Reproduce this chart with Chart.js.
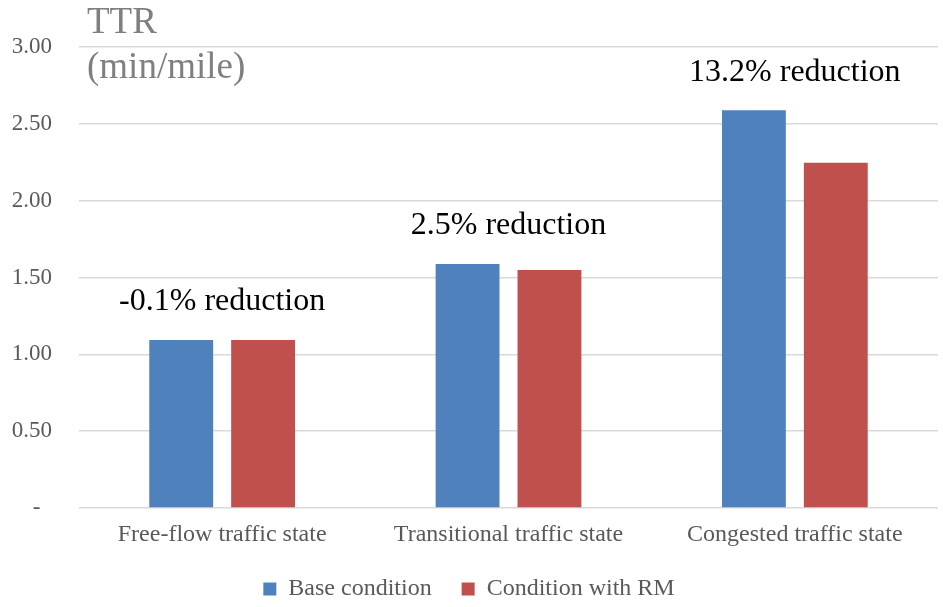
<!DOCTYPE html>
<html>
<head>
<meta charset="utf-8">
<script src="https://cdn.jsdelivr.net/npm/chart.js@4.4.0/dist/chart.umd.min.js"></script>
<style>
  html, body { margin: 0; padding: 0; background: #fff; }
  #wrap { width: 943px; height: 607px; }
</style>
</head>
<body>
<div id="wrap"><canvas id="chart_bar"></canvas></div>
<script>
var categories = ['Free-flow traffic state', 'Transitional traffic state', 'Congested traffic state']
var baseValues = [1.093, 1.588, 2.588]
var rmValues = [1.094, 1.548, 2.246]
var reductionLabels = ['-0.1% reduction', '2.5% reduction', '13.2% reduction']
var yTicks = [0, 0.5, 1, 1.5, 2, 2.5, 3]

var serif = "'Liberation Serif', 'Times New Roman', serif"

// axis title and the reduction notes above each group
var notesPlugin = {
  id: 'notes',
  afterDatasetsDraw: function (chart) {
    var ctx = chart.ctx
    var x = chart.scales.x
    var y = chart.scales.y
    ctx.save()
    ctx.fillStyle = '#000'
    ctx.font = '32px ' + serif
    ctx.textAlign = 'center'
    ctx.textBaseline = 'middle'
    reductionLabels.forEach(function (t, i) {
      var top = y.getPixelForValue(Math.max(baseValues[i], rmValues[i]))
      ctx.fillText(t, x.getPixelForValue(i), top - 38)
    })
    ctx.fillStyle = '#7f7f7f'
    ctx.font = '37px ' + serif
    ctx.textAlign = 'left'
    ctx.textBaseline = 'alphabetic'
    ctx.fillText('TTR', chart.chartArea.left + 8, 33)
    ctx.fillText('(min/mile)', chart.chartArea.left + 8, 78)
    ctx.restore()
  }
}

var ctx = document.getElementById('chart_bar')
var myChart = new Chart(ctx, {
  type: 'bar',
  data: {
    labels: categories,
    datasets: [{
      label: 'Base condition',
      data: baseValues,
      backgroundColor: '#4F81BD'
    }, {
      label: 'Condition with RM',
      data: rmValues,
      backgroundColor: '#C0504D'
    }]
  },
  options: {
    responsive: true,
    maintainAspectRatio: false,
    animation: false,
    categoryPercentage: 0.572,
    barPercentage: 0.78,
    layout: { padding: { top: 47, right: 5, left: 0, bottom: -4 } },
    plugins: {
      tooltip: { enabled: false },
      legend: {
        position: 'bottom',
        labels: {
          color: '#595959',
          font: { family: serif, size: 24 },
          boxWidth: 13,
          boxHeight: 13,
          padding: 30
        }
      }
    },
    scales: {
      x: {
        grid: { display: false },
        border: { display: false },
        afterFit: function (s) { s.height = 39 },
        ticks: {
          color: '#595959',
          font: { family: serif, size: 24 },
          padding: 4
        }
      },
      y: {
        min: 0,
        max: 3,
        afterBuildTicks: function (s) {
          s.ticks = yTicks.map(function (v) { return { value: v } })
        },
        afterFit: function (s) { s.width = 79 },
        grid: { color: '#d9d9d9', lineWidth: 1.5, drawTicks: false },
        border: { display: false },
        ticks: {
          color: '#595959',
          font: { family: serif, size: 23 },
          padding: 27,
          callback: function (v) { return v === 0 ? '-  ' : v.toFixed(2) }
        }
      }
    }
  },
  plugins: [notesPlugin]
})
</script>
</body>
</html>
